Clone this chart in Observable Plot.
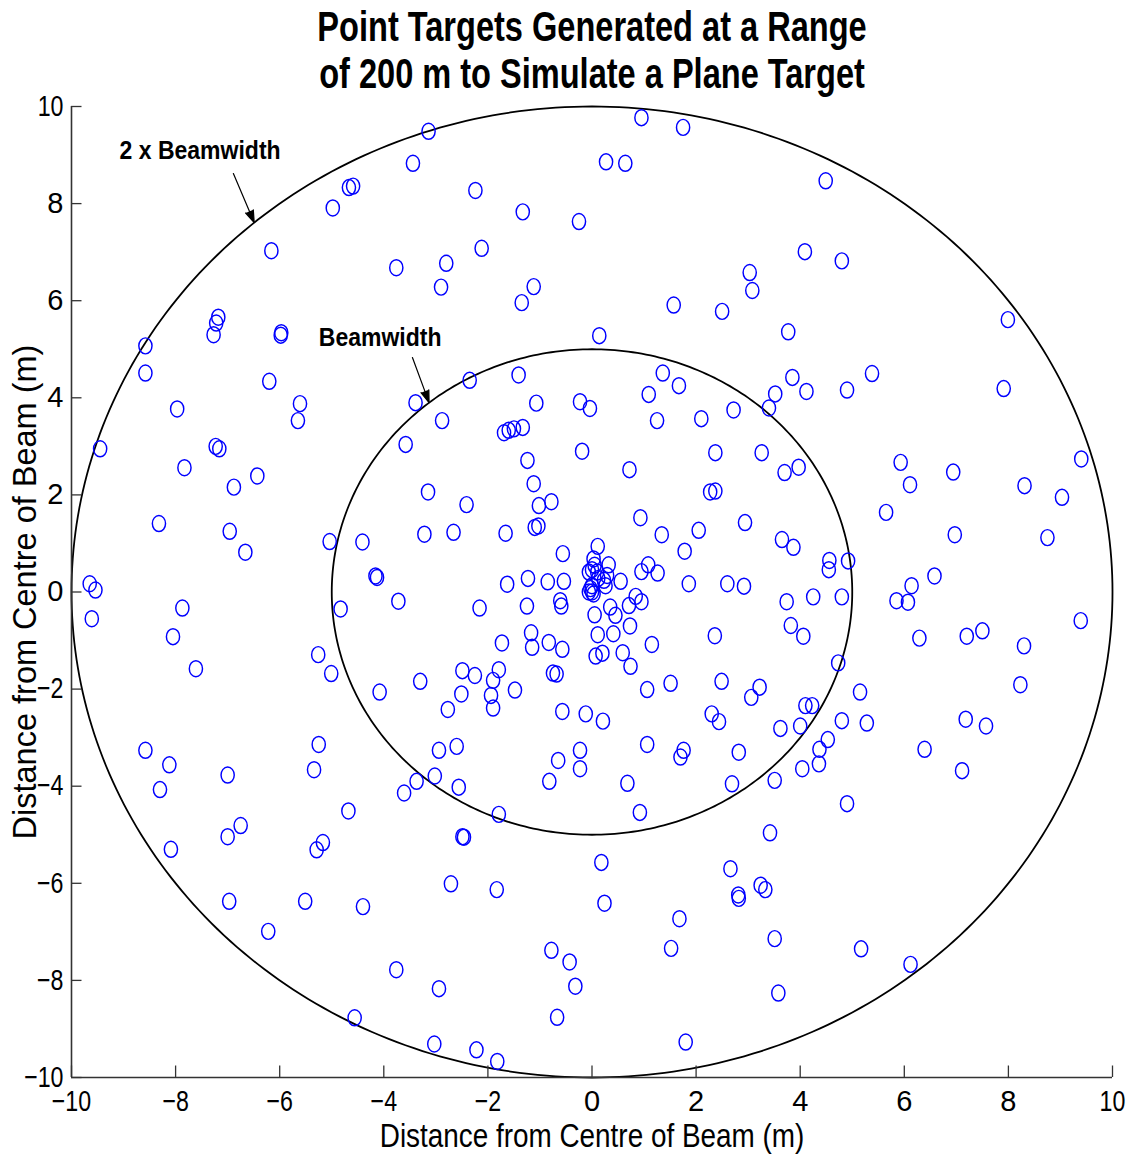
<!DOCTYPE html>
<html>
<head>
<meta charset="utf-8">
<script src="https://cdn.jsdelivr.net/npm/d3@7"></script>
<script src="https://cdn.jsdelivr.net/npm/@observablehq/plot@0.6"></script>
<style>
html, body { margin: 0; padding: 0; background: #fff; }
#chart { width: 1135px; height: 1155px; }
</style>
</head>
<body>
<div id="chart"></div>
<script>
const titleLines = ["Point Targets Generated at a Range", "of 200 m to Simulate a Plane Target"];
const xLabel = "Distance from Centre of Beam (m)";
const yLabel = "Distance from Centre of Beam (m)";
const xDomain = [-10, 10];
const yDomain = [-10, 10];
const xTicks = [-10, -8, -6, -4, -2, 0, 2, 4, 6, 8, 10];
const yTicks = [-10, -8, -6, -4, -2, 0, 2, 4, 6, 8, 10];

const beamRadii = [5, 10];
const beamNames = ["Beamwidth", "2 x Beamwidth"];
const beamLabelX = [-4.07, -7.53];
const beamLabelY = [5.23, 9.08];
const arrowX1 = [-3.45, -6.89];
const arrowY1 = [4.83, 8.62];
const arrowX2 = [-3.13, -6.49];
const arrowY2 = [3.90, 7.61];

// point targets [x, y] in metres
const targets = [
  [-3.14, 9.49], [-3.44, 8.83], [-4.67, 8.33], [-4.59, 8.36], [-4.98, 7.91], [-6.16, 7.03], [-3.76, 6.68],
  [-7.18, 5.66], [-7.22, 5.54], [-7.27, 5.30], [-5.97, 5.34], [-5.98, 5.29], [-8.58, 5.07], [-8.58, 4.51],
  [-6.20, 4.34], [-5.61, 3.88], [-5.65, 3.53], [-7.97, 3.77], [-3.39, 3.90], [0.95, 9.77], [1.75, 9.57],
  [0.27, 8.86], [0.64, 8.83], [-2.24, 8.27], [-1.33, 7.83], [-0.25, 7.63], [-2.12, 7.08], [-2.80, 6.77],
  [-2.90, 6.28], [-1.12, 6.29], [-1.35, 5.96], [3.03, 6.58], [3.08, 6.21], [1.57, 5.91], [2.50, 5.78],
  [0.14, 5.28], [-2.35, 4.36], [-1.41, 4.47], [1.36, 4.51], [1.67, 4.25], [1.09, 4.07], [-1.07, 3.89],
  [-0.23, 3.92], [-0.04, 3.78], [2.72, 3.75], [3.52, 4.08], [3.40, 3.79], [-2.88, 3.53], [1.25, 3.53],
  [2.10, 3.57], [4.49, 8.47], [4.09, 7.01], [4.80, 6.82], [7.99, 5.61], [3.77, 5.36], [3.85, 4.42],
  [4.12, 4.13], [4.90, 4.16], [5.38, 4.50], [7.91, 4.19],
  [-9.45, 2.95], [-7.23, 3.00], [-7.16, 2.95], [-7.83, 2.56], [-6.43, 2.39], [-6.88, 2.16], [-3.58, 3.04],
  [-8.32, 1.41], [-6.96, 1.25], [-6.66, 0.82], [-5.04, 1.04], [-4.41, 1.03], [-4.16, 0.33], [-4.13, 0.30],
  [-3.72, -0.19], [-4.83, -0.35], [-9.65, 0.17], [-9.54, 0.04], [-9.61, -0.55], [-7.87, -0.33], [-8.05, -0.92],
  [-7.61, -1.58], [-5.26, -1.29], [-5.01, -1.68], [-4.08, -2.06], [-3.30, -1.84], [-8.58, -3.26], [-5.25, -3.14],
  [-1.69, 3.28], [-1.60, 3.33], [-1.50, 3.36], [-1.33, 3.39], [-0.19, 2.90], [-1.24, 2.71], [0.72, 2.52],
  [2.37, 2.87], [3.26, 2.87], [-3.15, 2.06], [-2.41, 1.80], [-1.12, 2.23], [-1.02, 1.78], [-0.78, 1.86],
  [-1.10, 1.33], [-1.03, 1.36], [2.27, 2.06], [2.37, 2.08], [-3.22, 1.19], [-2.66, 1.23], [-1.66, 1.21],
  [0.93, 1.53], [1.34, 1.18], [2.05, 1.27], [2.94, 1.43], [-0.56, 0.79], [0.11, 0.94], [0.03, 0.68],
  [0.05, 0.55], [0.00, 0.46], [-0.06, 0.41], [0.10, 0.41], [0.32, 0.56], [0.29, 0.34], [0.23, 0.24],
  [0.00, 0.13], [-0.03, 0.07], [0.00, 0.00], [0.03, -0.04], [0.26, 0.13], [0.12, 0.28], [-0.06, 0.00],
  [0.55, 0.22], [0.95, 0.42], [1.08, 0.56], [1.26, 0.39], [1.78, 0.84], [1.86, 0.17], [2.60, 0.17],
  [2.92, 0.12], [-1.63, 0.16], [-1.23, 0.28], [-0.85, 0.21], [-0.54, 0.22], [-0.61, -0.18], [-0.59, -0.29],
  [-1.25, -0.29], [-2.16, -0.33], [0.35, -0.31], [0.45, -0.48], [0.71, -0.28], [0.84, -0.09], [0.95, -0.20],
  [0.05, -0.47], [0.11, -0.88], [0.41, -0.86], [0.73, -0.70], [2.36, -0.90], [-1.17, -0.84], [-1.15, -1.14],
  [-1.73, -1.05], [-0.83, -1.04], [-0.57, -1.18], [0.07, -1.32], [0.20, -1.26], [0.59, -1.25], [0.74, -1.53],
  [1.15, -1.08], [-2.49, -1.62], [-2.25, -1.72], [-1.79, -1.60], [-1.90, -1.82], [-1.94, -2.13], [-1.90, -2.39],
  [-2.51, -2.10], [-2.77, -2.42], [-1.48, -2.02], [-0.75, -1.67], [-0.68, -1.69], [-0.57, -2.46], [-0.12, -2.51],
  [0.21, -2.66], [1.06, -2.01], [1.51, -1.88], [2.49, -1.84], [3.22, -1.96], [3.06, -2.17], [2.30, -2.51],
  [2.44, -2.67], [-2.94, -3.26], [-2.60, -3.18], [-0.23, -3.26], [1.06, -3.14], [1.76, -3.26], [1.70, -3.40],
  [2.82, -3.30],
  [5.93, 2.67], [6.94, 2.47], [6.11, 2.21], [5.65, 1.64], [9.40, 2.74], [8.31, 2.19], [9.03, 1.95],
  [6.97, 1.18], [8.75, 1.12], [3.70, 2.46], [3.97, 2.57], [3.65, 1.08], [3.87, 0.92], [4.56, 0.65],
  [4.55, 0.46], [4.92, 0.64], [6.58, 0.33], [6.14, 0.13], [5.85, -0.18], [6.07, -0.21], [3.74, -0.20],
  [4.25, -0.10], [4.80, -0.10], [3.82, -0.69], [4.06, -0.91], [6.29, -0.95], [7.20, -0.91], [7.50, -0.80],
  [9.39, -0.59], [8.30, -1.11], [4.73, -1.46], [5.15, -2.06], [8.23, -1.91], [4.10, -2.34], [4.23, -2.34],
  [3.62, -2.81], [4.00, -2.76], [4.80, -2.65], [5.28, -2.70], [7.18, -2.62], [7.57, -2.76], [4.53, -3.04],
  [4.37, -3.24], [6.39, -3.24],
  [-8.12, -3.56], [-7.00, -3.77], [-5.34, -3.66], [-8.30, -4.07], [-3.37, -3.90], [-3.61, -4.14], [-4.68, -4.51],
  [-6.75, -4.81], [-7.00, -5.04], [-8.09, -5.30], [-5.17, -5.16], [-5.29, -5.31], [-6.97, -6.37], [-5.51, -6.37],
  [-4.40, -6.48], [-6.22, -6.99], [-3.76, -7.78], [-4.56, -8.77], [-0.65, -3.47], [-0.23, -3.64], [-3.02, -3.79],
  [-2.56, -4.02], [-0.82, -3.90], [0.68, -3.94], [2.69, -3.95], [-1.79, -4.58], [0.92, -4.54], [-2.49, -5.04],
  [-2.46, -5.05], [3.42, -4.96], [0.18, -5.57], [2.66, -5.70], [-2.71, -6.01], [-1.83, -6.13], [0.24, -6.41],
  [3.24, -6.04], [3.33, -6.13], [2.81, -6.24], [2.82, -6.31], [1.68, -6.73], [3.51, -7.14], [-0.78, -7.38],
  [-0.43, -7.62], [1.52, -7.34], [-2.94, -8.17], [-0.32, -8.12], [3.58, -8.26], [-0.67, -8.76], [-3.03, -9.31],
  [-2.22, -9.43], [-1.82, -9.67], [1.80, -9.27], [3.51, -3.88], [4.04, -3.64], [4.36, -3.54], [7.11, -3.68],
  [4.90, -4.36], [5.17, -7.35], [6.12, -7.67]
];

const font = "'Liberation Sans', Arial, Helvetica, sans-serif";
const axisColor = "#333333";

// slightly tall elliptical marker (MATLAB 'o' in a stretched figure)
const ellipseSymbol = {
  draw(context, size) {
    const r = Math.sqrt(size / Math.PI);
    const rx = r * 0.825, ry = r, k = 0.5523;
    context.moveTo(rx, 0);
    context.bezierCurveTo(rx, ry * k, rx * k, ry, 0, ry);
    context.bezierCurveTo(-rx * k, ry, -rx, ry * k, -rx, 0);
    context.bezierCurveTo(-rx, -ry * k, -rx * k, -ry, 0, -ry);
    context.bezierCurveTo(rx * k, -ry, rx, -ry * k, rx, 0);
    context.closePath();
  }
};

const rings = beamRadii.flatMap(r =>
  d3.range(0, 361, 1).map(a => ({r, x: r * Math.cos(a * Math.PI / 180), y: r * Math.sin(a * Math.PI / 180)}))
);
const points = targets.map(([x, y]) => ({x, y}));
const beams = beamNames.map((name, i) => ({
  name, lx: beamLabelX[i], ly: beamLabelY[i],
  x1: arrowX1[i], y1: arrowY1[i], x2: arrowX2[i], y2: arrowY2[i]
}));

const chart = Plot.plot({
  width: 1135,
  height: 1155,
  marginTop: 106,
  marginRight: 23,
  marginBottom: 78,
  marginLeft: 71,
  style: {fontFamily: font, fontSize: "29px", background: "#fff", color: "#000", overflow: "visible"},
  x: {domain: xDomain},
  y: {domain: yDomain},
  marks: [
    Plot.line(rings, {x: "x", y: "y", z: "r", stroke: "#000", strokeWidth: 1.8}),
    Plot.dot(points, {x: "x", y: "y", r: 8, symbol: ellipseSymbol, stroke: "#0000ff", strokeWidth: 1.45, fill: "none"}),
    Plot.arrow(beams, {x1: "x1", y1: "y1", x2: "x2", y2: "y2", stroke: "#000", fill: "#000", strokeWidth: 1.2, headLength: 16, headAngle: 38}),
    Plot.text(beams, {x: "lx", y: "ly", text: "name", fontWeight: "bold", fontSize: 25, textAnchor: "middle", lineAnchor: "middle", fill: "#000"}),
    Plot.ruleX([xDomain[0]], {stroke: axisColor, strokeWidth: 1.6}),
    Plot.ruleY([yDomain[0]], {stroke: axisColor, strokeWidth: 1.6}),
    Plot.axisX({ticks: xTicks, tickSize: -11.5, tickPadding: 24.5, stroke: axisColor, strokeWidth: 1.3, fontSize: 29, label: null}),
    Plot.axisY({ticks: yTicks, tickSize: -10.5, tickPadding: 18.5, stroke: axisColor, strokeWidth: 1.3, fontSize: 29, label: null}),
    Plot.text([titleLines[0]], {frameAnchor: "top", text: d => d, fontWeight: "bold", fontSize: 42, lineAnchor: "bottom", dy: -66, fill: "#000"}),
    Plot.text([titleLines[1]], {frameAnchor: "top", text: d => d, fontWeight: "bold", fontSize: 42, lineAnchor: "bottom", dy: -19, fill: "#000"}),
    Plot.text([xLabel], {frameAnchor: "bottom", text: d => d, fontSize: 34, lineAnchor: "bottom", dy: 69, fill: "#000"}),
    Plot.text([yLabel], {frameAnchor: "left", text: d => d, fontSize: 32.5, rotate: -90, textAnchor: "middle", lineAnchor: "bottom", dx: -36, fill: "#000"})
  ]
});

document.getElementById("chart").appendChild(chart);

// the reference uses a horizontally condensed face: compress non-rotated text
const squeeze = new Map([
  [titleLines[0], 0.775], [titleLines[1], 0.775],
  [beamNames[0], 0.92], [beamNames[1], 0.92],
  [xLabel, 0.82]
]);
chart.querySelectorAll("text").forEach(t => {
  const box = t.getBoundingClientRect();
  if (box.height > box.width) return; // rotated y label
  const f = squeeze.has(t.textContent) ? squeeze.get(t.textContent) : 0.8;
  const w = t.getComputedTextLength();
  if (w > 0) {
    t.setAttribute("textLength", (w * f).toFixed(2));
    t.setAttribute("lengthAdjust", "spacingAndGlyphs");
  }
});
</script>
</body>
</html>
